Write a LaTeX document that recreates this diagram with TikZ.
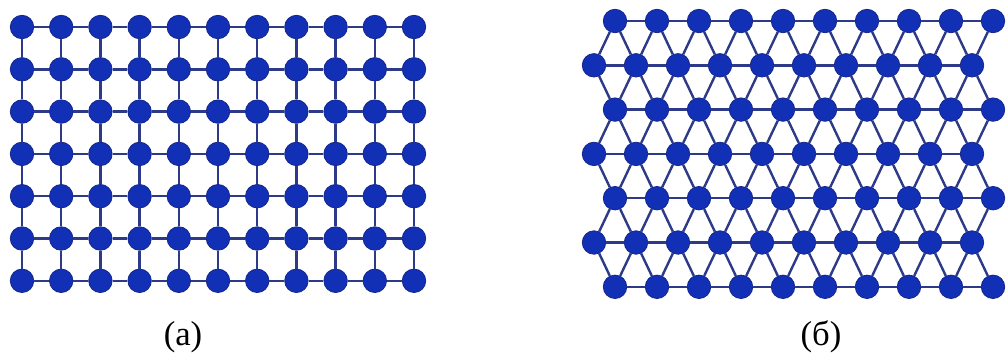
\documentclass[tikz,border=0pt]{standalone}
\usepackage{fontspec}
\setmainfont{Liberation Serif}
\definecolor{dotfill}{RGB}{18,48,182}
\definecolor{dotedge}{RGB}{20,38,140}
\definecolor{bond}{RGB}{45,58,135}
\tikzset{
  atom/.style={circle, fill=dotfill, draw=dotedge, line width=0.6pt, minimum size=17.6pt, inner sep=0pt},
  bondline/.style={draw=bond, line width=1.8pt},
  caption/.style={anchor=base, font=\fontsize{26}{30}\selectfont, inner sep=0pt}
}
\begin{document}
\begin{tikzpicture}[x=0.75pt, y=-0.75pt]
\useasboundingbox (0,0) rectangle (1007,355);
% (a) square lattice
\foreach \i in {0,...,10}{
  \foreach \j in {0,...,6}{
    \node[atom] (a-\i-\j) at ({22+39.2*\i},{27+42.3*\j}) {};
  }
}
\foreach \i in {0,...,10}{
  \foreach \j [evaluate=\j as \jn using int(\j+1)] in {0,...,5}{
    \draw[bondline] (a-\i-\j) -- (a-\i-\jn);
  }
}
\foreach \i [evaluate=\i as \in using int(\i+1)] in {0,...,9}{
  \foreach \j in {0,...,6}{
    \draw[bondline] (a-\i-\j) -- (a-\in-\j);
  }
}
% (b) triangular lattice
\foreach \j in {0,2,4,6}{
  \foreach \i in {0,...,9}{
    \node[atom] (b-\i-\j) at ({615+42*\i},{21+44.3*\j}) {};
  }
}
\foreach \j in {1,3,5}{
  \foreach \i in {0,...,9}{
    \node[atom] (b-\i-\j) at ({594+42*\i},{21+44.3*\j}) {};
  }
}
\foreach \j in {0,...,6}{
  \foreach \i [evaluate=\i as \in using int(\i+1)] in {0,...,8}{
    \draw[bondline] (b-\i-\j) -- (b-\in-\j);
  }
}
% shifted rows to neighbouring rows
\foreach \j in {0,2,4,6}{
  \foreach \k in {1,3,5}{
    \pgfmathtruncatemacro{\d}{abs(\j-\k)}
    \ifnum\d=1
      \foreach \i in {0,...,9}{
        \draw[bondline] (b-\i-\j) -- (b-\i-\k);
      }
      \foreach \i [evaluate=\i as \in using int(\i+1)] in {0,...,8}{
        \draw[bondline] (b-\i-\j) -- (b-\in-\k);
      }
    \fi
  }
}
% captions
\node[caption] (capa) at (183,345) {(а)};
\node[caption] (capb) at (821,345) {(б)};
\end{tikzpicture}
\end{document}
